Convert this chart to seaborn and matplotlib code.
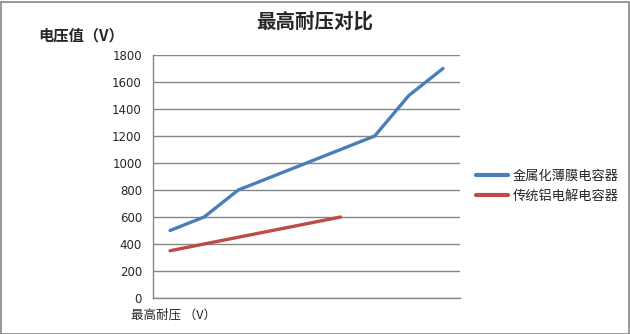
import matplotlib
matplotlib.use("Agg")
import matplotlib.pyplot as plt
import seaborn as sns
import pandas as pd
from matplotlib.patches import Rectangle

categories = list(range(9))
film_values = [500, 600, 800, 900, 1000, 1100, 1200, 1500, 1700]
electrolytic_values = [350, 400, 450, 500, 550, 600]
series_names = ["金属化薄膜电容器", "传统铝电解电容器"]
y_ticks = [0, 200, 400, 600, 800, 1000, 1200, 1400, 1600, 1800]

sns.set_theme(style="white")
plt.rcParams['font.family'] = ['Noto Sans CJK SC', 'DejaVu Sans']

df = pd.concat([
    pd.DataFrame({"x": categories[:len(film_values)], "v": film_values, "s": series_names[0]}),
    pd.DataFrame({"x": categories[:len(electrolytic_values)], "v": electrolytic_values, "s": series_names[1]}),
])

fig = plt.figure(figsize=(6.3, 3.34), dpi=100)
ax = fig.add_axes([153/630, 1-298/334, (460-153)/630, (298-55)/334])
sns.lineplot(data=df, x="x", y="v", hue="s", palette=["#4A7EBB", "#BE4B48"],
             linewidth=2.4, ax=ax, legend=True)

ax.set_xlim(-0.5, 8.5)
ax.set_ylim(0, 1800)
ax.set_yticks(y_ticks)
ax.set_yticklabels([str(t) for t in y_ticks], fontsize=8.5, family=['DejaVu Sans'])
ax.set_xticks([])
ax.tick_params(axis='y', length=0, pad=8)
ax.grid(axis='y', color='#868686', linewidth=1)
ax.set_axisbelow(True)
for s in ['top', 'right']:
    ax.spines[s].set_visible(False)
for s in ['left', 'bottom']:
    ax.spines[s].set_color('#868686')
    ax.spines[s].set_linewidth(1)
ax.set_xlabel("")
ax.set_ylabel("")

leg = ax.legend(loc='upper left', bbox_to_anchor=(464/630, 1-158/334), bbox_transform=fig.transFigure,
                frameon=False, fontsize=9.5, handlelength=2.4, handletextpad=0.4, labelspacing=0.5)
for line in leg.get_lines():
    line.set_linewidth(3)

fig.text(315/630, 1-22/334, "最高耐压对比", ha='center', va='center', fontsize=14, fontweight='bold')
fig.text(38/630, 1-35/334, "电压值（V）", ha='left', va='center', fontsize=11, fontweight='bold')
fig.text(131/630, 1-315/334, "最高耐压 （V）", ha='left', va='center', fontsize=9)

fig.patches.append(Rectangle((0.5/630, 0.5/334), 628.5/630, 332/334, transform=fig.transFigure,
                             fill=False, edgecolor='#868686', linewidth=1.2))
fig.savefig("out.png", dpi=100)
